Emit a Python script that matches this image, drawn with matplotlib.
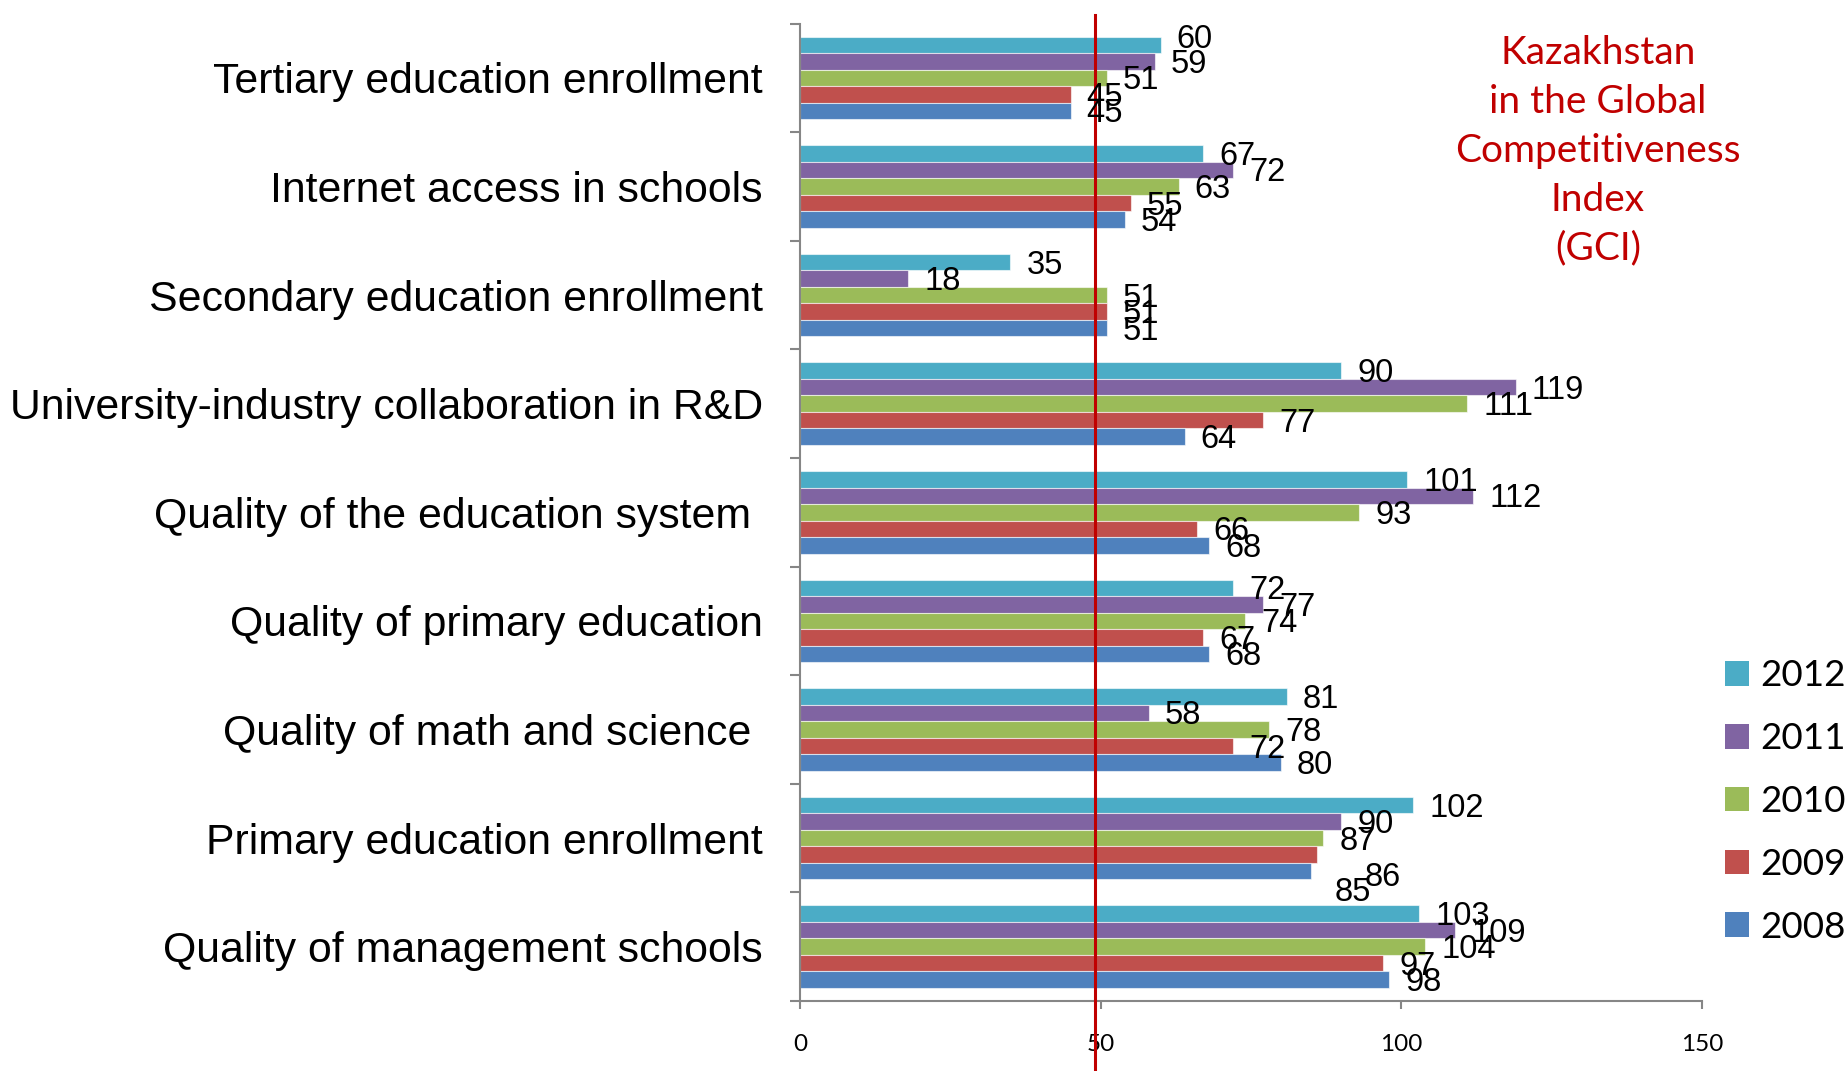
"""Kazakhstan education indicators in the GCI, horizontal grouped bars 2008-2012."""
import matplotlib; matplotlib.use("Agg")
import matplotlib.pyplot as plt
import numpy as np
from matplotlib.patches import Patch

categories = [
    "Tertiary education enrollment",
    "Internet access in schools",
    "Secondary education enrollment",
    "University-industry collaboration in R&D",
    "Quality of the education system ",
    "Quality of primary education",
    "Quality of math and science ",
    "Primary education enrollment",
    "Quality of management schools",
]
years = ["2012", "2011", "2010", "2009", "2008"]
rank_2012 = [60, 67, 35, 90, 101, 72, 81, 102, 103]
rank_2011 = [59, 72, 18, 119, 112, 77, 58, 90, 109]
rank_2010 = [51, 63, 51, 111, 93, 74, 78, 87, 104]
rank_2009 = [45, 55, 51, 77, 66, 67, 72, 86, 97]
rank_2008 = [45, 54, 51, 64, 68, 68, 80, 85, 98]
series = [rank_2012, rank_2011, rank_2010, rank_2009, rank_2008]
colors = ["#4BACC6", "#8064A2", "#9BBB59", "#C0504D", "#4F81BD"]
threshold = 49

# a few labels were dragged off their bars (px, +y is down)
nudge = {(0, 0): (0, -8), (7, 3): (31, 20), (7, 4): (7, 18)}

PX = 72 / 100  # points per pixel at dpi 100
GRAY = "#868686"

fig = plt.figure(figsize=(18.49, 10.71), dpi=100)
ax = fig.add_axes([800 / 1849, 70 / 1071, 902 / 1849, 977.4 / 1071])

n = len(categories)
centers = np.arange(n)[::-1].astype(float)
bh = 0.152
for j, (vals, col) in enumerate(zip(series, colors)):
    ys = centers + (2 - j) * bh
    ax.barh(ys, vals, height=bh, color=col, edgecolor=(1, 1, 1, 0.6), linewidth=0.8, zorder=2)
    for i, (y, v) in enumerate(zip(ys, vals)):
        dx, dy = nudge.get((i, j), (0, 0))
        ax.annotate(str(v), (v, y), xytext=((16 + dx) * PX, -(dy + 3) * PX),
                    textcoords="offset points", ha="left", va="center",
                    fontsize=23.5, family=["Liberation Sans", "DejaVu Sans"], zorder=4)

ax.axvline(threshold, ymin=-0.0716, ymax=1.0088, color="#C00000", lw=2.2, clip_on=False, zorder=3)

ax.set_xlim(0, 150)
ax.set_ylim(-0.5, n - 0.5)
ax.set_xticks([0, 50, 100, 150])
ax.tick_params(axis="x", direction="out", length=8 * PX, width=1.5, color=GRAY, pad=18,
               labelsize=17.5)
for t in ax.get_xticklabels():
    t.set_family(["Lato", "DejaVu Sans"])

ax.set_yticks(np.arange(-0.5, n, 1.0))
ax.set_yticklabels([])
ax.set_yticks(centers, categories, minor=True)
ax.tick_params(axis="y", which="major", direction="out", length=10 * PX, width=1.5, color=GRAY)
ax.tick_params(axis="y", which="minor", length=0, pad=37 * PX, labelsize=30.8)
for t in ax.get_yticklabels(minor=True):
    t.set_family(["Liberation Sans", "DejaVu Sans"])

for s in ("top", "right"):
    ax.spines[s].set_visible(False)
for s in ("left", "bottom"):
    ax.spines[s].set_color(GRAY)
    ax.spines[s].set_linewidth(1.5)

fig.text(1598 / 1849, 1 - 151 / 1071,
         "Kazakhstan\nin the Global\nCompetitiveness\nIndex\n(GCI)",
         ha="center", va="center", multialignment="center", color="#C00000",
         fontsize=28, family=["Lato", "DejaVu Sans"], linespacing=1.44)

handles = [Patch(facecolor=c, edgecolor="none") for c in colors]
fig.legend(handles, years, loc="center left", bbox_to_anchor=(1725 / 1849, 1 - 801.5 / 1071),
           bbox_transform=fig.transFigure, frameon=False, borderpad=0, borderaxespad=0,
           handlelength=0.65, handleheight=0.65, handletextpad=0.3, labelspacing=0.81,
           prop={"family": ["Lato", "DejaVu Sans"], "size": 26.5})

fig.savefig("out.png", dpi=100, facecolor="white")
